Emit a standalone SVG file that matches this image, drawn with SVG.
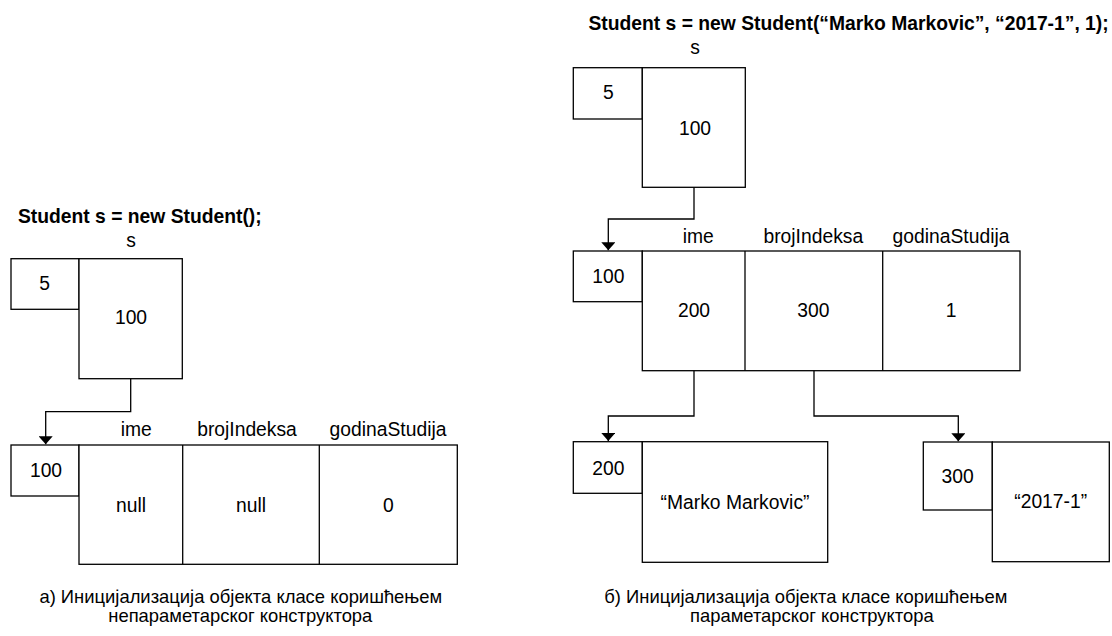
<svg xmlns="http://www.w3.org/2000/svg" width="1112" height="636" viewBox="0 0 1112 636">
  <style>
    text { font-family: "Liberation Sans", Arial, sans-serif; font-size: 19.3px; fill: #000; }
    .t { font-weight: bold; }
    .c { text-anchor: middle; }
    .cap { font-size: 18.4px; }
    rect { fill: #fff; stroke: #000; stroke-width: 1.3; }
    .box line { stroke: #000; stroke-width: 1.3; }
    .conn path { fill: none; stroke: #000; stroke-width: 1.3; marker-end: url(#arr); }
  </style>
  <defs>
    <marker id="arr" viewBox="0 0 8 14" refX="8" refY="7" markerWidth="8" markerHeight="14" markerUnits="userSpaceOnUse" orient="auto">
      <path d="M0,0 L8,7 L0,14 z" fill="#000"/>
    </marker>
  </defs>

  <!-- Left: default constructor -->
  <g id="title-a">
    <text class="t" x="18" y="222.5">Student s = new Student();</text>
  </g>
  <g id="var-s-a" class="box">
    <text class="c" x="131" y="246.5">s</text>
    <rect x="11" y="258.7" width="68" height="50.6"/>
    <rect x="79" y="258.7" width="103.3" height="120"/>
    <text class="c" x="44.5" y="290">5</text>
    <text class="c" x="131" y="324.3">100</text>
  </g>
  <g id="obj-a" class="box">
    <text class="c" x="136.3" y="436">ime</text>
    <text class="c" x="247" y="436">brojIndeksa</text>
    <text class="c" x="388" y="436">godinaStudija</text>
    <rect x="11" y="445" width="68" height="51"/>
    <rect x="79" y="445" width="378.3" height="119.3"/>
    <line x1="182.7" y1="445" x2="182.7" y2="564.3"/>
    <line x1="319.3" y1="445" x2="319.3" y2="564.3"/>
    <text class="c" x="46" y="476.7">100</text>
    <text class="c" x="131" y="511.7">null</text>
    <text class="c" x="251" y="511.7">null</text>
    <text class="c" x="388.3" y="511.7">0</text>
  </g>
  <g id="caption-a">
    <text class="c cap" x="240.8" y="603">а) Иницијализација објекта класе коришћењем</text>
    <text class="c cap" x="240.3" y="622.3">непараметарског конструктора</text>
  </g>

  <!-- Right: parameterized constructor -->
  <g id="title-b">
    <text class="t" x="588.5" y="29.5">Student s = new Student(“Marko Markovic”, “2017-1”, 1);</text>
  </g>
  <g id="var-s-b" class="box">
    <text class="c" x="695" y="54">s</text>
    <rect x="573.3" y="67.7" width="69" height="51.3"/>
    <rect x="642.3" y="67.7" width="103" height="119.6"/>
    <text class="c" x="608.3" y="99.3">5</text>
    <text class="c" x="695" y="135">100</text>
  </g>
  <g id="obj-b" class="box">
    <text class="c" x="698.3" y="242.7">ime</text>
    <text class="c" x="813.3" y="242.7">brojIndeksa</text>
    <text class="c" x="951" y="242.7">godinaStudija</text>
    <rect x="573.3" y="251" width="69" height="50.7"/>
    <rect x="642.3" y="251" width="377.7" height="119.7"/>
    <line x1="745" y1="251" x2="745" y2="370.7"/>
    <line x1="882.7" y1="251" x2="882.7" y2="370.7"/>
    <text class="c" x="608.3" y="283.3">100</text>
    <text class="c" x="694" y="317.3">200</text>
    <text class="c" x="813.3" y="317.3">300</text>
    <text class="c" x="951" y="317.3">1</text>
  </g>
  <g id="str-200" class="box">
    <rect x="573.3" y="441.7" width="69" height="51.6"/>
    <rect x="642.3" y="441.7" width="185.4" height="120.6"/>
    <text class="c" x="608.3" y="475">200</text>
    <text class="c" x="735" y="509">“Marko Markovic”</text>
  </g>
  <g id="str-300" class="box">
    <rect x="923.3" y="442" width="69" height="68"/>
    <rect x="992.3" y="442" width="117" height="119.7"/>
    <text class="c" x="957.7" y="482.7">300</text>
    <text class="c" x="1050.7" y="508.3">“2017-1”</text>
  </g>
  <g id="caption-b">
    <text class="cap" x="604.3" y="603">б) Иницијализација објекта класе коришћењем</text>
    <text class="cap" x="690" y="622.3">параметарског конструктора</text>
  </g>

  <g id="connectors" class="conn">
    <path d="M130.7,378.7 V411.7 H45.7 V444.3"/>
    <path d="M694,187.3 V219 H608.3 V250.3"/>
    <path d="M694,370.7 V416 H608.3 V441"/>
    <path d="M814,370.7 V416 H958.3 V441.3"/>
  </g>
</svg>
